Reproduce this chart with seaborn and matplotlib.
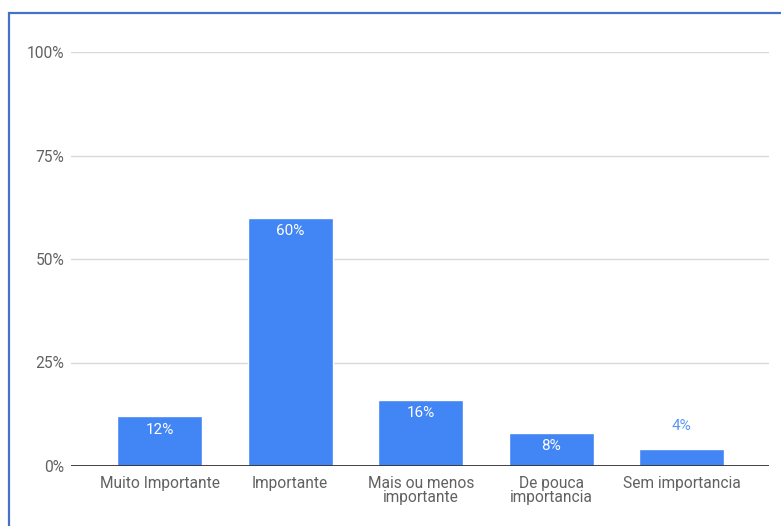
import matplotlib
matplotlib.use("Agg")
import matplotlib.pyplot as plt
import seaborn as sns
import pandas as pd
from matplotlib.patches import Rectangle

categories = ["Muito Importante", "Importante", "Mais ou menos\nimportante",
              "De pouca\nimportancia", "Sem importancia"]
values = [0.12, 0.60, 0.16, 0.08, 0.04]
labels = ["12%", "60%", "16%", "8%", "4%"]
yticks = [0, 0.25, 0.5, 0.75, 1.0]
ytick_labels = ["0%", "25%", "50%", "75%", "100%"]

sns.set_theme(style="white")
plt.rcParams['font.family'] = ['Roboto', 'DejaVu Sans']

bar_color = "#4285F4"
df = pd.DataFrame({"cat": categories, "val": values})

fig = plt.figure(figsize=(7.81, 5.26), dpi=100)
ax = fig.add_axes([71/781, 1 - 466/526, (769 - 71)/781, (466 - 52)/526])

sns.barplot(data=df, x="cat", y="val", color=bar_color, width=0.65,
            saturation=1, ax=ax, zorder=3)

ax.set_ylim(0, 1)
ax.set_xlim(-0.678, 4.667)
ax.set_yticks(yticks)
ax.set_yticklabels(ytick_labels)
ax.set_xlabel("")
ax.set_ylabel("")
for s in ax.spines.values():
    s.set_visible(False)
ax.grid(axis="y", color="#d9d9d9", linewidth=1.0, zorder=0)
ax.axhline(0, color="#333333", linewidth=1.3, zorder=4)
ax.tick_params(axis="both", length=0, labelsize=11.2, labelcolor="#616161")
ax.tick_params(axis="y", pad=5)
ax.tick_params(axis="x", pad=7)
for t in ax.get_xticklabels():
    t.set_linespacing(0.95)

# data labels
for i, (v, lab) in enumerate(zip(values, labels)):
    if v >= 0.07:
        ax.annotate(lab, (i, v), xytext=(0, -9.5), textcoords="offset points",
                    ha="center", va="center", color="white", fontsize=11, zorder=5)
    else:
        ax.annotate(lab, (i, v), xytext=(0, 17), textcoords="offset points",
                    ha="center", va="center", color="#5a95f5", fontsize=11, zorder=5)

# blue frame border
fig.patches.append(Rectangle((9/781, -0.05), 1.1, 1 - 13.5/526 + 0.05,
                             transform=fig.transFigure, fill=False,
                             edgecolor="#4472C4", linewidth=1.6, zorder=10))

fig.savefig("out.png", dpi=100)
